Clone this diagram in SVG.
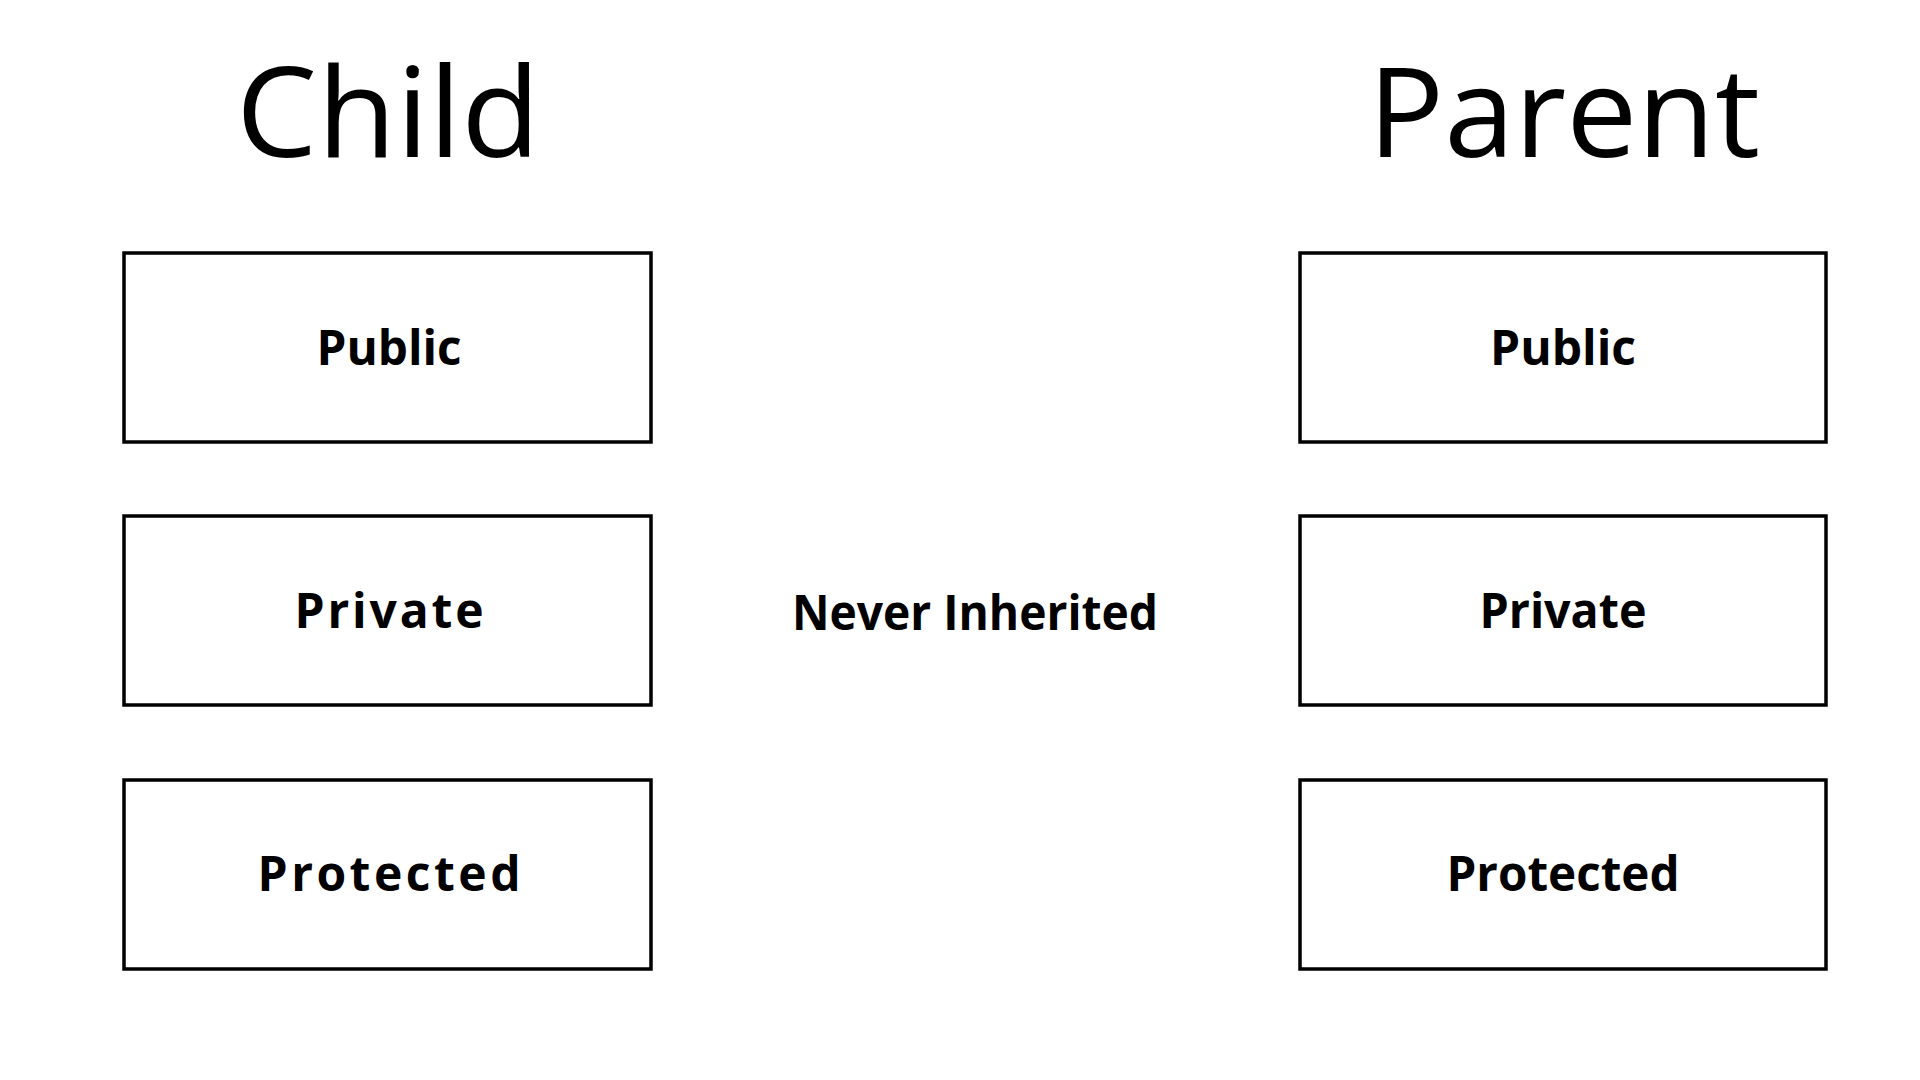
<svg xmlns="http://www.w3.org/2000/svg" width="1920" height="1080" viewBox="0 0 1920 1080">
<style>
.box{fill:#ffffff;stroke:#000000;stroke-width:3.5}
.title{font-family:"Open Sans","Liberation Sans",sans-serif;font-size:125px;font-weight:400;fill:#000000;text-anchor:middle}
.lbl{font-family:"Open Sans","Liberation Sans",sans-serif;font-size:48px;font-weight:700;fill:#000000;text-anchor:middle}
</style>
<rect x="0" y="0" width="1920" height="1080" fill="#ffffff"/>
<g id="title-child"><text class="title" x="388" y="157" textLength="304" lengthAdjust="spacingAndGlyphs">Child</text></g>
<g id="title-parent"><text class="title" x="1564" y="157" textLength="392" lengthAdjust="spacingAndGlyphs">Parent</text></g>
<g id="child-public"><rect class="box" x="124" y="253" width="527" height="189"/><text class="lbl" x="389" y="365" textLength="145" lengthAdjust="spacingAndGlyphs">Public</text></g>
<g id="child-private"><rect class="box" x="124" y="516" width="527" height="189"/><text class="lbl" x="389" y="628" textLength="189" lengthAdjust="spacing">Private</text></g>
<g id="child-protected"><rect class="box" x="124" y="780" width="527" height="189"/><text class="lbl" x="389" y="891" textLength="263" lengthAdjust="spacing">Protected</text></g>
<g id="parent-public"><rect class="box" x="1300" y="253" width="526" height="189"/><text class="lbl" x="1563" y="365" textLength="146" lengthAdjust="spacingAndGlyphs">Public</text></g>
<g id="parent-private"><rect class="box" x="1300" y="516" width="526" height="189"/><text class="lbl" x="1563" y="628" textLength="167" lengthAdjust="spacingAndGlyphs">Private</text></g>
<g id="parent-protected"><rect class="box" x="1300" y="780" width="526" height="189"/><text class="lbl" x="1563" y="891" textLength="233" lengthAdjust="spacingAndGlyphs">Protected</text></g>
<g id="never-inherited"><text class="lbl" x="975" y="630" textLength="366" lengthAdjust="spacingAndGlyphs">Never Inherited</text></g>
<g id="connectors"></g>
</svg>
